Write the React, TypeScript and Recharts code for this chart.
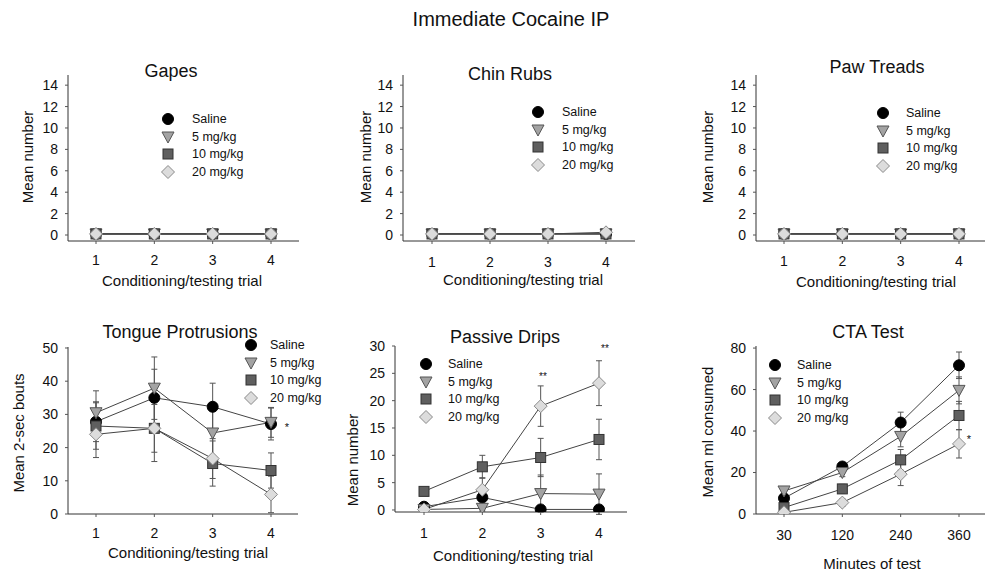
import React from "react";
import { ErrorBar, Line, LineChart, XAxis, YAxis } from "recharts";

const FONT = "'Liberation Sans', Arial, sans-serif";

const trials = ["1", "2", "3", "4"];
const minutes = ["30", "120", "240", "360"];
const groups = ["Saline", "5 mg/kg", "10 mg/kg", "20 mg/kg"];

// top row: every group sits on the floor
const gapesMean = [
  [0.1, 0.1, 0.1, 0.1],
  [0.1, 0.1, 0.1, 0.1],
  [0.1, 0.1, 0.1, 0.1],
  [0.1, 0.1, 0.1, 0.1],
];
const chinMean = [
  [0.1, 0.1, 0.1, 0.1],
  [0.1, 0.1, 0.1, 0.1],
  [0.1, 0.1, 0.1, 0.1],
  [0.1, 0.1, 0.1, 0.25],
];
const pawMean = [
  [0.1, 0.1, 0.1, 0.1],
  [0.1, 0.1, 0.1, 0.1],
  [0.1, 0.1, 0.1, 0.1],
  [0.1, 0.1, 0.1, 0.1],
];
const noErr = [
  [0, 0, 0, 0],
  [0, 0, 0, 0],
  [0, 0, 0, 0],
  [0, 0, 0, 0],
];

const tongueMean = [
  [27.8, 35.0, 32.3, 27.1],
  [30.5, 37.9, 24.4, 27.6],
  [26.5, 25.8, 15.2, 13.1],
  [24.0, 25.8, 16.7, 5.9],
];
const tongueErr = [
  [6.0, 8.6, 7.1, 4.8],
  [6.6, 9.4, 7.0, 4.5],
  [7.0, 7.2, 6.8, 5.3],
  [7.0, 10.0, 6.0, 5.5],
];

const dripsMean = [
  [0.6, 2.3, 0.1, 0.1],
  [0.1, 0.3, 3.0, 2.9],
  [3.4, 7.9, 9.6, 12.9],
  [0.1, 3.7, 19.0, 23.2],
];
const dripsErr = [
  [0.4, 1.5, 0, 0],
  [0.3, 0.5, 3.4, 3.7],
  [0.6, 2.1, 3.5, 3.7],
  [0.2, 2.2, 3.7, 4.1],
];

const ctaMean = [
  [7.6, 22.9, 44.1, 71.7],
  [11.1, 20.0, 37.4, 59.6],
  [3.1, 12.1, 26.1, 47.5],
  [0.8, 5.5, 19.2, 33.8],
];
const ctaErr = [
  [1.5, 1.8, 5.0, 6.4],
  [1.2, 2.0, 5.0, 6.5],
  [1.0, 2.2, 5.0, 6.8],
  [0.5, 1.8, 5.5, 6.8],
];

const topTicks = [0, 2, 4, 6, 8, 10, 12, 14];
const tongueTicks = [0, 10, 20, 30, 40, 50];
const dripsTicks = [0, 5, 10, 15, 20, 25, 30];
const ctaTicks = [0, 20, 40, 60, 80];

function Marker({ kind, cx, cy }: { kind: number; cx: number; cy: number }) {
  if (kind === 0) return <circle cx={cx} cy={cy} r={5.5} fill="#000" stroke="#000" />;
  if (kind === 1)
    return (
      <polygon
        points={`${cx - 6},${cy - 5} ${cx + 6},${cy - 5} ${cx},${cy + 6}`}
        fill="#a3a3a3"
        stroke="#555"
        strokeWidth={1}
      />
    );
  if (kind === 2)
    return <rect x={cx - 5} y={cy - 5} width={10} height={10} fill="#5f5f5f" stroke="#333" strokeWidth={1} />;
  return (
    <polygon
      points={`${cx},${cy - 6.5} ${cx + 6.5},${cy} ${cx},${cy + 6.5} ${cx - 6.5},${cy}`}
      fill="#dcdcdc"
      stroke="#8a8a8a"
      strokeWidth={1}
    />
  );
}

function LegendBox({ x, y, textGap }: { x: number; y: number; textGap: number }) {
  return (
    <div
      style={{
        position: "absolute",
        left: x - 8,
        top: y - 8.8,
        fontFamily: FONT,
        fontSize: 12.5,
        color: "#111",
      }}
    >
      {groups.map((g, k) => (
        <div key={g} style={{ display: "flex", alignItems: "center", height: 17.6 }}>
          <svg width={16} height={16} style={{ display: "block" }}>
            <Marker kind={k} cx={8} cy={8} />
          </svg>
          <span style={{ marginLeft: textGap, whiteSpace: "nowrap" }}>{g}</span>
        </div>
      ))}
    </div>
  );
}

type PanelProps = {
  left: number;
  top: number;
  plotW: number;
  plotH: number;
  padL: number;
  padR: number;
  domain: [number, number];
  ticks: number[];
  cats: string[];
  means: number[][];
  errs: number[][];
  xTickGap: number;
};

const YW = 50;
const MT = 10;
const MR = 5;
const XH = 40;
const TS = 3;

function Panel(p: PanelProps) {
  const data = p.cats.map((c, i) => {
    const row: Record<string, number | string> = { cat: c };
    p.means.forEach((m, k) => {
      row[`s${k}`] = m[i];
      row[`e${k}`] = p.errs[k][i];
    });
    return row;
  });
  return (
    <div style={{ position: "absolute", left: p.left - YW, top: p.top - MT }}>
      <LineChart
        width={YW + p.plotW + MR}
        height={MT + p.plotH + XH}
        data={data}
        margin={{ top: MT, right: MR, left: 0, bottom: 0 }}
        style={{ overflow: "visible" }}
      >
        <XAxis
          dataKey="cat"
          height={XH}
          interval={0}
          padding={{ left: p.padL, right: p.padR }}
          tickLine={{ stroke: "#555" }}
          tickSize={TS}
          tickMargin={p.xTickGap - TS}
          axisLine={{ stroke: "#333" }}
          tick={{ fill: "#111", fontSize: 14, fontFamily: FONT }}
        />
        <YAxis
          type="number"
          domain={p.domain}
          ticks={p.ticks}
          interval={0}
          width={YW}
          allowDataOverflow
          tickLine={{ stroke: "#555" }}
          tickSize={TS}
          tickMargin={7}
          axisLine={{ stroke: "#333" }}
          tick={{ fill: "#111", fontSize: 14, fontFamily: FONT }}
        />
        {p.means.map((_, k) => (
          <Line
            key={k}
            dataKey={`s${k}`}
            stroke="#444"
            strokeWidth={1}
            isAnimationActive={false}
            activeDot={false}
            dot={(d: any) => <Marker key={`m${k}-${d.index}`} kind={k} cx={d.cx} cy={d.cy} />}
          >
            <ErrorBar dataKey={`e${k}`} direction="y" width={3} stroke="#555" strokeWidth={1} />
          </Line>
        ))}
      </LineChart>
    </div>
  );
}

function Txt({
  x,
  y,
  size,
  children,
  rotate,
}: {
  x: number;
  y: number;
  size: number;
  children: React.ReactNode;
  rotate?: boolean;
}) {
  return (
    <div
      style={{
        position: "absolute",
        left: x,
        top: y,
        transform: `translate(-50%, -50%)${rotate ? " rotate(-90deg)" : ""}`,
        fontFamily: FONT,
        fontSize: size,
        lineHeight: 1,
        color: "#111",
        whiteSpace: "nowrap",
      }}
    >
      {children}
    </div>
  );
}

export default function App() {
  const xl = "Conditioning/testing trial";
  return (
    <div style={{ position: "absolute", left: 0, top: 0, width: 990, height: 575, background: "#fff" }}>
      <Txt x={511} y={19} size={20}>Immediate Cocaine IP</Txt>

      <Panel left={68} top={75} plotW={231} plotH={166} padL={28} padR={28} domain={[-0.56, 14.95]} ticks={topTicks}
        cats={trials} means={gapesMean} errs={noErr} xTickGap={14} />
      <LegendBox x={168} y={119} textGap={16} />
      <Txt x={171} y={71} size={18}>Gapes</Txt>
      <Txt x={27} y={157} size={15} rotate>Mean number</Txt>
      <Txt x={182} y={280} size={15}>{xl}</Txt>

      <Panel left={403} top={75} plotW={232} plotH={166} padL={29} padR={29} domain={[-0.56, 14.95]} ticks={topTicks}
        cats={trials} means={chinMean} errs={noErr} xTickGap={16} />
      <LegendBox x={538} y={112} textGap={16} />
      <Txt x={510} y={74} size={18}>Chin Rubs</Txt>
      <Txt x={365} y={157} size={15} rotate>Mean number</Txt>
      <Txt x={523} y={279} size={15}>{xl}</Txt>

      <Panel left={756} top={75} plotW={229} plotH={166} padL={28} padR={26} domain={[-0.56, 14.95]} ticks={topTicks}
        cats={trials} means={pawMean} errs={noErr} xTickGap={15} />
      <LegendBox x={883} y={113} textGap={15} />
      <Txt x={877} y={67} size={18}>Paw Treads</Txt>
      <Txt x={707} y={157} size={15} rotate>Mean number</Txt>
      <Txt x={876} y={281} size={15}>{xl}</Txt>

      <Panel left={68} top={347} plotW={230} plotH={167} padL={28} padR={27} domain={[0, 50.3]} ticks={tongueTicks}
        cats={trials} means={tongueMean} errs={tongueErr} xTickGap={14} />
      <LegendBox x={251} y={345} textGap={11} />
      <Txt x={180} y={332} size={18}>Tongue Protrusions</Txt>
      <Txt x={18} y={433} size={15} rotate>Mean 2-sec bouts</Txt>
      <Txt x={188} y={552} size={15}>{xl}</Txt>
      <Txt x={287} y={427} size={11}>*</Txt>

      <Panel left={395} top={346} plotW={232} plotH={166} padL={29} padR={28} domain={[-0.37, 30]} ticks={dripsTicks}
        cats={trials} means={dripsMean} errs={dripsErr} xTickGap={16} />
      <LegendBox x={426} y={364} textGap={14} />
      <Txt x={505} y={337} size={18}>Passive Drips</Txt>
      <Txt x={352} y={460} size={15} rotate>Mean number</Txt>
      <Txt x={513} y={555} size={15}>{xl}</Txt>
      <Txt x={543} y={377} size={10}>**</Txt>
      <Txt x={605} y={349} size={10}>**</Txt>

      <Panel left={756} top={346} plotW={229} plotH={168} padL={28} padR={26} domain={[0, 81]} ticks={ctaTicks}
        cats={minutes} means={ctaMean} errs={ctaErr} xTickGap={16} />
      <LegendBox x={775} y={365} textGap={14} />
      <Txt x={868} y={332} size={18}>CTA Test</Txt>
      <Txt x={707} y={432} size={15} rotate>Mean ml consumed</Txt>
      <Txt x={872} y={563} size={15}>Minutes of test</Txt>
      <Txt x={969} y={439} size={11}>*</Txt>
    </div>
  );
}
